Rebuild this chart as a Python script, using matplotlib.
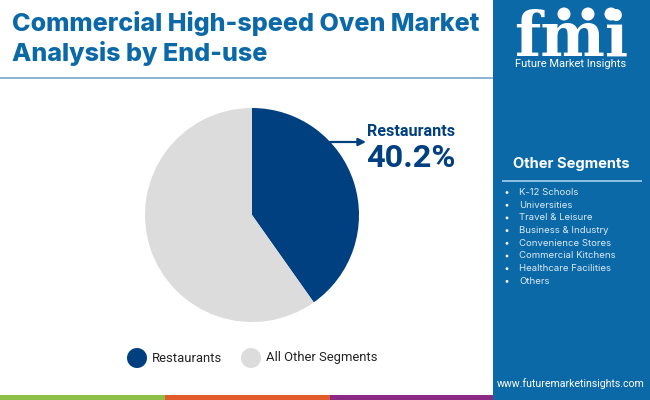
import matplotlib
matplotlib.use('Agg')
import matplotlib.pyplot as plt
from matplotlib.patches import Rectangle, Circle

labels = ['Restaurants', 'All Other Segments']
values = [40.2, 59.8]
colors = ['#004080', '#DCDCDC']
other_segments = ['K-12 Schools', 'Universities', 'Travel & Leisure', 'Business & Industry',
                  'Convenience Stores', 'Commercial Kitchens', 'Healthcare Facilities', 'Others']

BLUE = '#0B69A8'
NAVY = '#004080'

plt.rcParams['font.family'] = ['Roboto', 'DejaVu Sans']

fig = plt.figure(figsize=(6.5, 4), dpi=100, facecolor='white')

# overlay in pixel coords, y going down like the reference
bg = fig.add_axes([0, 0, 1, 1])
bg.set_xlim(0, 650)
bg.set_ylim(400, 0)
bg.axis('off')

bg.add_patch(Rectangle((493, 0), 157, 400, color=BLUE, lw=0))
bg.add_patch(Rectangle((0, 76.5), 493, 2, color='#8FB4D3', lw=0))
bg.add_patch(Rectangle((0, 395), 165, 5, color='#8CBF45', lw=0))
bg.add_patch(Rectangle((165, 395), 165, 5, color='#E25C2B', lw=0))
bg.add_patch(Rectangle((330, 395), 163, 5, color='#8B2A84', lw=0))

bg.text(12, 24, 'Commercial High-speed Oven Market', fontsize=18.1, fontweight='heavy',
        family='Inter', color=BLUE, va='center')
bg.text(12, 53, 'Analysis by End-use', fontsize=18.1, fontweight='heavy',
        family='Inter', color=BLUE, va='center')

# logo
bg.text(571, 56, 'fmi', fontsize=44, fontweight='bold', family='DejaVu Serif',
        color='white', ha='center', va='baseline')
for y in range(26, 56, 5):
    bg.add_patch(Rectangle((512, y), 118, 1, color=BLUE, lw=0))
for cx in (564, 588, 611):
    bg.add_patch(Circle((cx, 14), 6.5, color='white', lw=0))
bg.text(571, 64, 'Future Market Insights', fontsize=8, color='white', ha='center', va='center')

# side panel list
bg.text(571, 164, 'Other Segments', fontsize=10.6, fontweight='bold', family='Inter',
        color='white', ha='center', va='center')
bg.add_patch(Rectangle((502, 180), 140, 1.5, color='#8DBFE0', lw=0))
for i, name in enumerate(other_segments):
    y = 192.5 + i * 12.7
    bg.add_patch(Circle((507, y), 1.4, color='white', lw=0))
    bg.text(519, y, name, fontsize=6.9, family='Inter', color='#DCEBF6', va='center')

bg.text(571, 384, 'www.futuremarketinsights.com', fontsize=7.6, color='white', ha='center', va='center')

# annotation
bg.annotate('', xy=(366, 142), xytext=(330, 142),
            arrowprops=dict(arrowstyle='-|>', color=NAVY, lw=1.6, mutation_scale=11, shrinkA=0, shrinkB=0))
bg.text(367, 132, 'Restaurants', fontsize=11.6, fontweight='bold', color=NAVY, va='center')
bg.text(366, 158, '40.2%', fontsize=23.4, fontweight='bold', color=NAVY, va='center')

# legend
bg.add_patch(Circle((137, 358), 10, color=colors[0], lw=0))
bg.text(152, 358, labels[0], fontsize=9.4, color='#222222', va='center')
bg.add_patch(Circle((251, 358), 10, color=colors[1], lw=0))
bg.text(266, 358, labels[1], fontsize=9.4, color='#222222', va='center')

# pie centred at (252, 215), radius 107 px
ax = fig.add_axes([(252 - 108) / 650, 1 - (215 + 108) / 400, 216 / 650, 216 / 400])
ax.pie(values, colors=colors, startangle=90, counterclock=False, radius=107 / 108,
       wedgeprops=dict(linewidth=0))
ax.set_xlim(-1, 1)
ax.set_ylim(-1, 1)
ax.set_aspect('equal')
ax.patch.set_alpha(0)

fig.savefig('out.png', dpi=100)
